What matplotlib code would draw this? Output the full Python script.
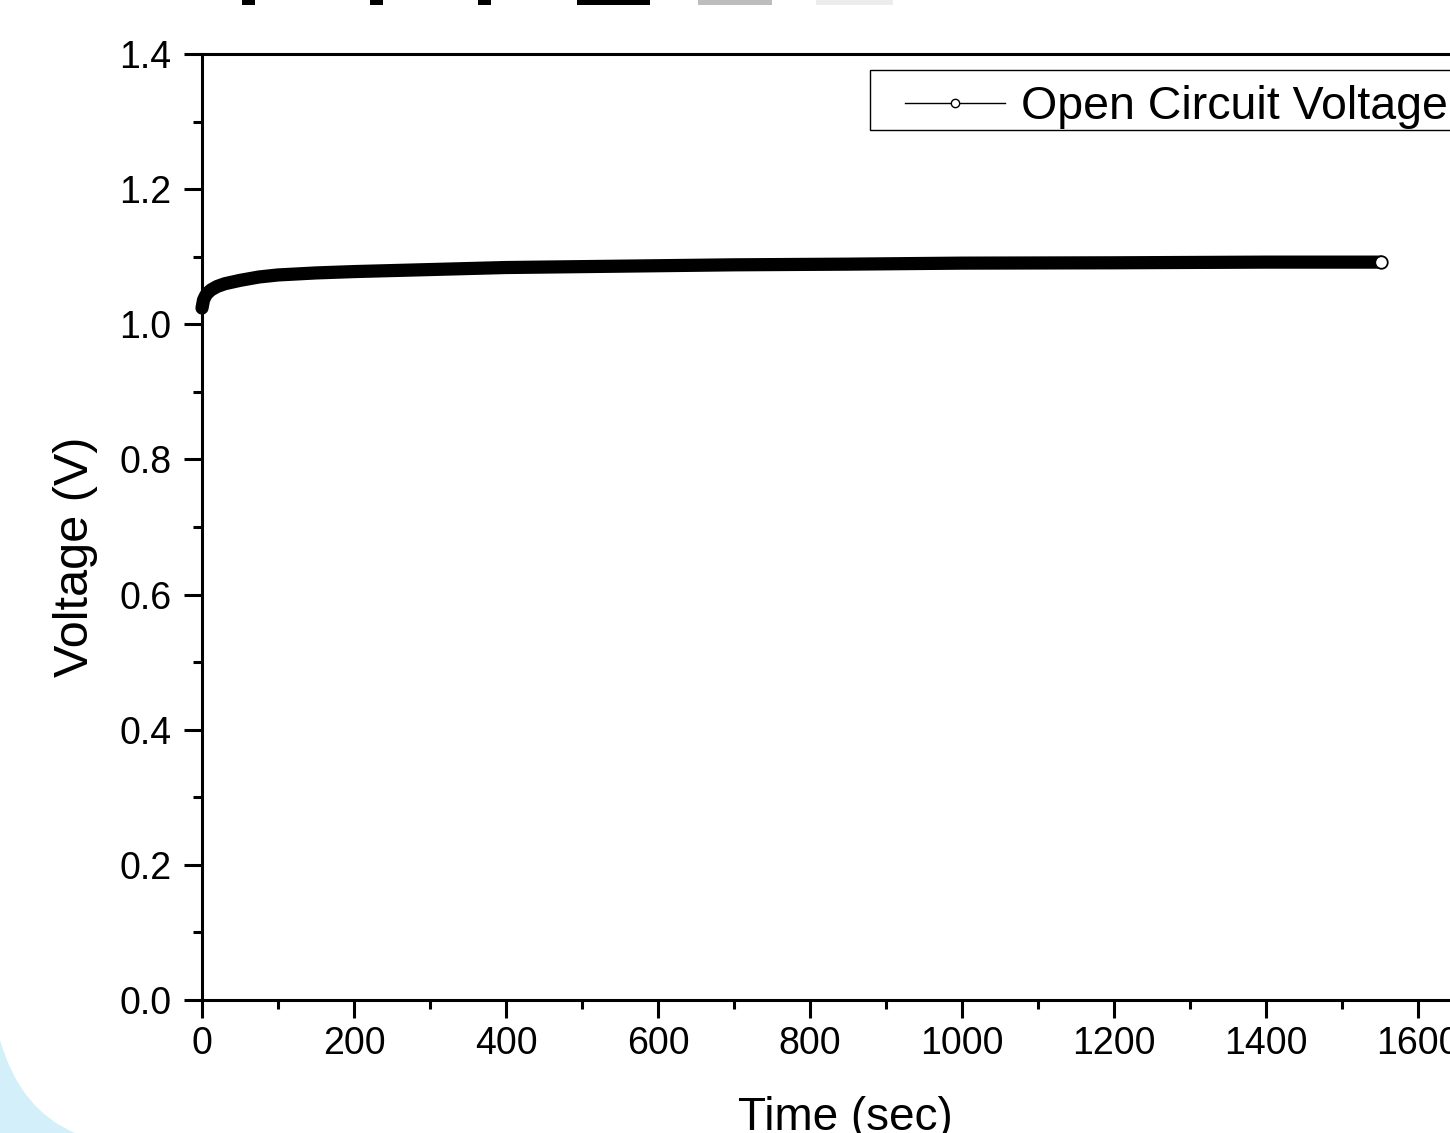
import matplotlib
matplotlib.use('Agg')
import matplotlib.pyplot as plt
from matplotlib.lines import Line2D
from matplotlib.patches import Rectangle, PathPatch
from matplotlib.path import Path
from matplotlib.ticker import MultipleLocator, FormatStrFormatter

plt.rcParams['font.family'] = ['Liberation Sans', 'DejaVu Sans']

# open circuit voltage readings (sec, V)
time_s = [0, 2, 5, 8, 12, 20, 30, 50, 75, 100, 150, 200, 300, 400,
          550, 700, 850, 1000, 1200, 1400, 1551]
voltage = [1.024, 1.036, 1.043, 1.047, 1.051, 1.056, 1.060, 1.065, 1.070,
           1.073, 1.076, 1.078, 1.081, 1.084, 1.086, 1.088, 1.089, 1.0905,
           1.091, 1.092, 1.092]
series_name = 'Open Circuit Voltage'

W, H = 1450, 1133
fig = plt.figure(figsize=(W / 100, H / 100), dpi=100)

# axes placed in pixels (right edge runs past the picture, like the screenshot)
left, right, top, bottom = 202, 1494, 54, 1000
ax = fig.add_axes([left / W, 1 - bottom / H, (right - left) / W, (bottom - top) / H])

def fig_pt(x, y):
    return (x / W, 1 - y / H)

# light blue slide background corner
corner = Path([fig_pt(0, 1040), fig_pt(20, 1110), fig_pt(75, 1133),
               fig_pt(0, 1133), fig_pt(0, 1040)],
              [Path.MOVETO, Path.CURVE3, Path.CURVE3, Path.LINETO, Path.CLOSEPOLY])
fig.patches.append(PathPatch(corner, transform=fig.transFigure,
                             facecolor='#d3eff9', edgecolor='none', zorder=-5))

# bits of the slide header cut off at the top edge
for x0, x1, c in [(242, 255, 'black'), (370, 383, 'black'), (478, 491, 'black'),
                  (577, 650, 'black'), (698, 772, '#bdbdbd'), (816, 893, '#ececec')]:
    fig.patches.append(Rectangle(fig_pt(x0, 5), (x1 - x0) / W, 5 / H,
                                 transform=fig.transFigure, facecolor=c,
                                 edgecolor='none'))

ax.plot(time_s, voltage, color='black', lw=9.5, solid_capstyle='round',
        solid_joinstyle='round', clip_on=False, zorder=3)
ax.plot(time_s[-1:], voltage[-1:], 'o', ms=9, mfc='white', mec='black',
        mew=1.3, clip_on=False, zorder=4)

ax.set_xlim(0, 1700)
ax.set_ylim(0, 1.4)
ax.xaxis.set_major_locator(MultipleLocator(200))
ax.xaxis.set_minor_locator(MultipleLocator(100))
ax.yaxis.set_major_locator(MultipleLocator(0.2))
ax.yaxis.set_minor_locator(MultipleLocator(0.1))
ax.yaxis.set_major_formatter(FormatStrFormatter('%.1f'))

for s in ax.spines.values():
    s.set_linewidth(2.2)
ax.tick_params(which='major', direction='out', length=13, width=2.2,
               labelsize=27, pad=6)
ax.tick_params(which='minor', direction='out', length=6.5, width=2.2)
ax.tick_params(axis='y', which='major', pad=9)

ax.set_xlabel('Time (sec)', fontsize=33)
ax.set_ylabel('Voltage (V)', fontsize=35)
ax.xaxis.set_label_coords(0.498, -0.1015)
ax.yaxis.set_label_coords(-0.0805, 0.4683)

# legend frame and entry
def ax_x(px):
    return (px - left) / (right - left)

def ax_y(py):
    return (bottom - py) / (bottom - top)

ax.add_patch(Rectangle((ax_x(870), ax_y(130)), 0.6, ax_y(70) - ax_y(130),
                       transform=ax.transAxes, facecolor='white',
                       edgecolor='black', lw=1, clip_on=False, zorder=5))
handle = Line2D([], [], color='black', lw=1, marker='o', ms=6,
                mfc='white', mec='black', mew=1)
ax.legend([handle], [series_name], loc='center left',
          bbox_to_anchor=(ax_x(905), ax_y(107)), frameon=False,
          fontsize=33.5, borderpad=0, borderaxespad=0,
          handlelength=2.15, handletextpad=0.35).set_zorder(6)

fig.savefig('out.png', dpi=100)
